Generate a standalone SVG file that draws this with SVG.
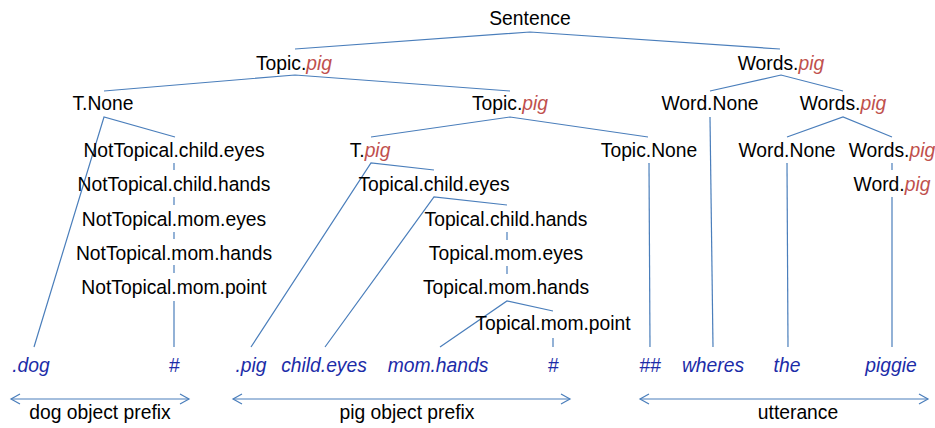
<svg xmlns="http://www.w3.org/2000/svg" width="935" height="428" viewBox="0 0 935 428">
<defs>
<style>
text{font-family:"Liberation Sans",Arial,sans-serif;font-size:19.3px;fill:#000;text-anchor:middle}
.r{fill:#c0504d;font-style:italic}
.leaf{fill:#1c2ca8;font-style:italic}
.e{stroke:#4a7ebb;stroke-width:1.2;fill:none}
</style>
<marker id="ah" markerWidth="12" markerHeight="12" refX="10" refY="6" orient="auto-start-reverse" markerUnits="userSpaceOnUse">
<path d="M1,1 L10,6 L1,11" fill="none" stroke="#4a7ebb" stroke-width="1.2"/>
</marker>
</defs>
<rect width="935" height="428" fill="#fff"/>
<g id="connectors">
<polyline class="e" points="295,49 530,32 780,49"/>
<polyline class="e" points="104,91 295,75 510,91"/>
<polyline class="e" points="710,91 781,75 843,91"/>
<polyline class="e" points="34,347 104,117 175,137"/>
<line class="e" x1="174" y1="163" x2="174" y2="170"/>
<line class="e" x1="174" y1="197" x2="174" y2="205"/>
<line class="e" x1="174" y1="232" x2="174" y2="239"/>
<line class="e" x1="174" y1="265" x2="174" y2="273"/>
<line class="e" x1="174" y1="301" x2="174" y2="347"/>
<polyline class="e" points="371,137 510,117 648,137"/>
<polyline class="e" points="251,347 371,163 434,170"/>
<polyline class="e" points="325,347 434,197 507,205"/>
<line class="e" x1="507" y1="232" x2="507" y2="240"/>
<line class="e" x1="507" y1="266" x2="507" y2="274"/>
<polyline class="e" points="440,347 507,301 553,311"/>
<line class="e" x1="553" y1="338" x2="553" y2="347"/>
<line class="e" x1="649" y1="163" x2="650" y2="347"/>
<line class="e" x1="710" y1="117" x2="713" y2="347"/>
<polyline class="e" points="787,137 843,117 892,137"/>
<line class="e" x1="787" y1="163" x2="788" y2="347"/>
<line class="e" x1="892" y1="163" x2="892" y2="170"/>
<line class="e" x1="892" y1="197" x2="892" y2="347"/>
<line class="e" x1="11" y1="399" x2="189" y2="399" marker-start="url(#ah)" marker-end="url(#ah)"/>
<line class="e" x1="233" y1="399" x2="570" y2="399" marker-start="url(#ah)" marker-end="url(#ah)"/>
<line class="e" x1="640" y1="399" x2="928" y2="399" marker-start="url(#ah)" marker-end="url(#ah)"/>
</g>
<g id="n-sentence"><text x="530" y="25">Sentence</text></g>
<g id="n-topic-pig"><text x="294" y="70">Topic.<tspan class="r">pig</tspan></text></g>
<g id="n-words-pig"><text x="781" y="70">Words.<tspan class="r">pig</tspan></text></g>
<g id="n-t-none"><text x="103" y="110">T.None</text></g>
<g id="n-topic-pig-2"><text x="510" y="110">Topic.<tspan class="r">pig</tspan></text></g>
<g id="n-word-none"><text x="710" y="110">Word.None</text></g>
<g id="n-words-pig-2"><text x="843" y="110">Words.<tspan class="r">pig</tspan></text></g>
<g id="n-nt-child-eyes"><text x="174" y="157">NotTopical.child.eyes</text></g>
<g id="n-nt-child-hands"><text x="174" y="191">NotTopical.child.hands</text></g>
<g id="n-nt-mom-eyes"><text x="174" y="226">NotTopical.mom.eyes</text></g>
<g id="n-nt-mom-hands"><text x="174" y="260">NotTopical.mom.hands</text></g>
<g id="n-nt-mom-point"><text x="174" y="294">NotTopical.mom.point</text></g>
<g id="n-t-pig"><text x="370" y="157">T.<tspan class="r">pig</tspan></text></g>
<g id="n-topic-none"><text x="649" y="157">Topic.None</text></g>
<g id="n-word-none-2"><text x="787" y="157">Word.None</text></g>
<g id="n-words-pig-3"><text x="892" y="157">Words.<tspan class="r">pig</tspan></text></g>
<g id="n-t-child-eyes"><text x="434" y="191">Topical.child.eyes</text></g>
<g id="n-word-pig"><text x="892" y="191">Word.<tspan class="r">pig</tspan></text></g>
<g id="n-t-child-hands"><text x="506" y="226">Topical.child.hands</text></g>
<g id="n-t-mom-eyes"><text x="506" y="260">Topical.mom.eyes</text></g>
<g id="n-t-mom-hands"><text x="506" y="294">Topical.mom.hands</text></g>
<g id="n-t-mom-point"><text x="553" y="330">Topical.mom.point</text></g>
<g id="leaf-dog"><text class="leaf" x="31" y="372">.dog</text></g>
<g id="leaf-hash1"><text class="leaf" x="174" y="372">#</text></g>
<g id="leaf-pig"><text class="leaf" x="251" y="372">.pig</text></g>
<g id="leaf-child-eyes"><text class="leaf" x="324" y="372">child.eyes</text></g>
<g id="leaf-mom-hands"><text class="leaf" x="438" y="372">mom.hands</text></g>
<g id="leaf-hash2"><text class="leaf" x="553" y="372">#</text></g>
<g id="leaf-hash3"><text class="leaf" x="650" y="372">##</text></g>
<g id="leaf-wheres"><text class="leaf" x="713" y="372">wheres</text></g>
<g id="leaf-the"><text class="leaf" x="787" y="372">the</text></g>
<g id="leaf-piggie"><text class="leaf" x="891" y="372">piggie</text></g>
<g id="label-dog"><text x="100" y="419">dog object prefix</text></g>
<g id="label-pig"><text x="407" y="419">pig object prefix</text></g>
<g id="label-utt"><text x="798" y="419">utterance</text></g>
</svg>
